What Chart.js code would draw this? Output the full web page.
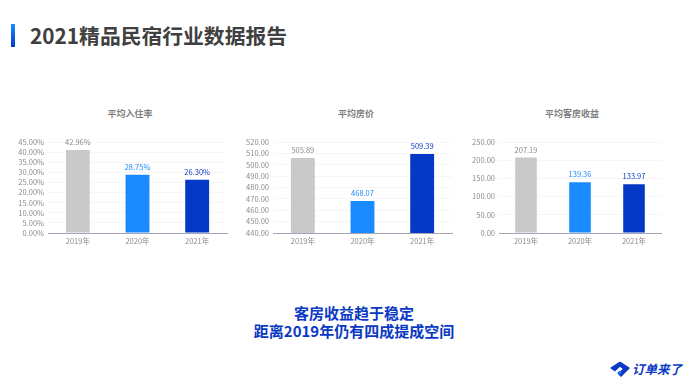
<!DOCTYPE html>
<html>
<head>
<meta charset="utf-8">
<script src="https://cdn.jsdelivr.net/npm/chart.js@4/dist/chart.umd.min.js"></script>
<style>
  html, body { margin: 0; padding: 0; background: #fff; }
  body { width: 700px; height: 390px; position: relative; overflow: hidden; font-family: "Noto Sans CJK SC", sans-serif; }
  canvas { position: absolute; }
  .mark { position: absolute; left: 11px; top: 24px; width: 4px; height: 23px; background: linear-gradient(#1a8cff, #0439c6); }
  .title { position: absolute; left: 30px; top: 21px; font-size: 20.8px; line-height: 29px; font-weight: 700; color: #404040; white-space: nowrap; }
  .sub { position: absolute; top: 107px; width: 120px; text-align: center; font-size: 9px; line-height: 14px; font-weight: 700; color: #7f7f7f; }
  .note { position: absolute; left: 204px; width: 300px; top: 304px; text-align: center; font-size: 15px; line-height: 18px; font-weight: 700; color: #0a39c4; }
  .logo { position: absolute; left: 608px; top: 360px; width: 76px; height: 18px; }
  .logo svg { position: absolute; left: 1px; top: 0; }
  .logo span { position: absolute; left: 24px; top: 0; font-size: 12.5px; line-height: 18px; font-weight: 700; font-style: italic; color: #0a39c4; white-space: nowrap; }
</style>
</head>
<body>
<div class="mark"></div>
<div class="title">2021精品民宿行业数据报告</div>
<div class="sub" style="left:70px">平均入住率</div>
<div class="sub" style="left:296px">平均房价</div>
<div class="sub" style="left:512px">平均客房收益</div>
<canvas id="occ" width="240" height="150" style="left:10px;top:105px;width:240px;height:150px"></canvas>
<canvas id="price" width="240" height="150" style="left:236px;top:105px;width:240px;height:150px"></canvas>
<canvas id="rev" width="240" height="150" style="left:452px;top:105px;width:240px;height:150px"></canvas>
<div class="note">客房收益趋于稳定<br>距离2019年仍有四成提成空间</div>
<div class="logo">
  <svg width="22" height="18" viewBox="0 0 22 18">
    <path d="M1 8 L10 2 Q11 1.5 12 2 L21 8 L12 17 L8.5 13.5 L13.5 9 L11 7 L6 11.5 Z" fill="#0a39c4"/>
    <path d="M6 11.5 L11 7 L13.5 9 L8.5 13.5 Z" fill="#fff"/>
    <path d="M8 13 L11 10.5 L13 12.5 L11 15 Z" fill="#1a6cf0"/>
  </svg>
  <span>订单来了</span>
</div>

<script>
const years = ['2019年', '2020年', '2021年'];

// the 2019 occupancy bar is drawn lower than its printed 42.96% in the source
const occValues = [41.0, 28.75, 26.3];
const occLabels = ['42.96%', '28.75%', '26.30%'];
const priceValues = [505.89, 468.07, 509.39];
const priceLabels = ['505.89', '468.07', '509.39'];
const revValues = [207.19, 139.36, 133.97];
const revLabels = ['207.19', '139.36', '133.97'];

const barColors = ['#c9c9c9', '#1a8aff', '#0439c6'];
const labelColors = ['#8c8c8c', '#1a8aff', '#0a39c4'];
const fontFamily = '"Noto Sans CJK SC", sans-serif';

// draws the value above each bar
const valueLabels = {
  id: 'valueLabels',
  afterDatasetsDraw(chart, args, opts) {
    const ctx = chart.ctx;
    ctx.save();
    ctx.font = '7.5px ' + fontFamily;
    ctx.textAlign = 'center';
    ctx.textBaseline = 'bottom';
    chart.getDatasetMeta(0).data.forEach((bar, i) => {
      ctx.fillStyle = labelColors[i];
      ctx.fillText(opts.texts[i], bar.x, bar.y - 4);
    });
    ctx.restore();
  }
};

function makeChart(id, values, texts, min, max, step, suffix, axisWidth, rightPad) {
  return new Chart(document.getElementById(id), {
    type: 'bar',
    data: {
      labels: years,
      datasets: [{
        data: values,
        backgroundColor: barColors,
        categoryPercentage: 1,
        barPercentage: 0.4
      }]
    },
    options: {
      responsive: false,
      animation: false,
      layout: { padding: { left: 0, right: rightPad, top: 37, bottom: 0 } },
      plugins: {
        legend: { display: false },
        tooltip: { enabled: false },
        valueLabels: { texts: texts }
      },
      scales: {
        x: {
          afterFit(scale) { scale.height = 22; },
          grid: { display: false, drawTicks: false },
          border: { color: '#a5a5b5', width: 1 },
          ticks: { color: '#8c8c8c', font: { family: fontFamily, size: 7.5 }, padding: 4, maxRotation: 0 }
        },
        y: {
          min: min,
          max: max,
          afterFit(scale) { scale.width = axisWidth; },
          grid: { color: '#f6f6f6', drawTicks: false },
          border: { display: false },
          ticks: {
            stepSize: step,
            autoSkip: false,
            color: '#8c8c8c',
            font: { family: fontFamily, size: 7.5 },
            padding: 4,
            callback: v => v.toFixed(2) + suffix
          }
        }
      }
    },
    plugins: [valueLabels]
  });
}

makeChart('occ', occValues, occLabels, 0, 45, 5, '%', 38, 23);
makeChart('price', priceValues, priceLabels, 440, 520, 10, '', 37, 24);
makeChart('rev', revValues, revLabels, 0, 250, 50, '', 47, 31);
</script>
</body>
</html>
